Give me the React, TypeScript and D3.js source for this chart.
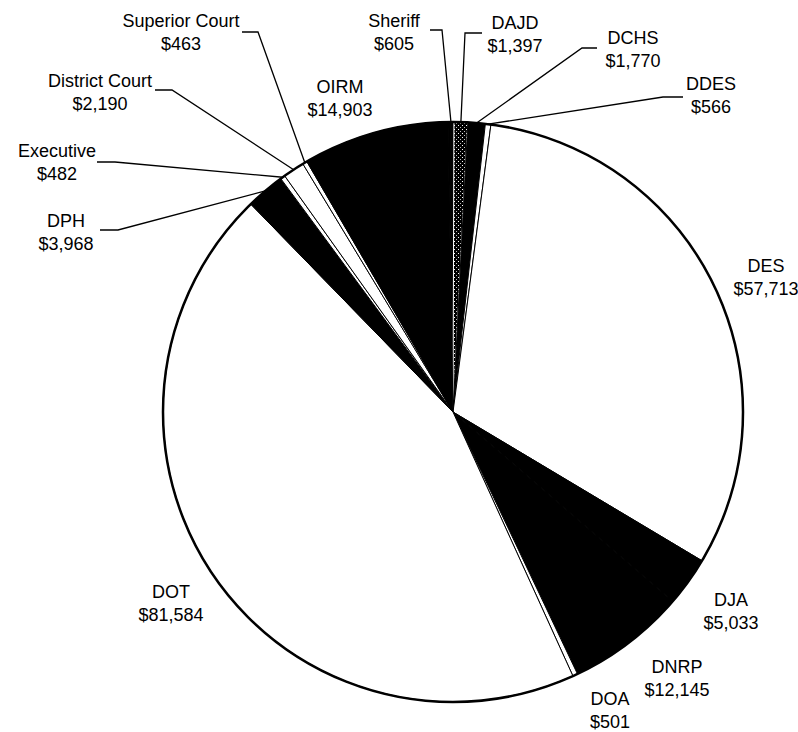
import React from "react";
import * as d3 from "d3";

const departments = ["Sheriff", "DAJD", "DCHS", "DDES", "DES", "DJA", "DNRP", "DOA", "DOT", "DPH", "Executive", "District Court", "Superior Court", "OIRM"];
const amounts = [605, 1397, 1770, 566, 57713, 5033, 12145, 501, 81584, 3968, 482, 2190, 463, 14903];
const sliceFills = ["black", "url(#speckle)", "black", "white", "white", "black", "black", "white", "white", "black", "white", "white", "white", "black"];

// label layout: [center x, first-line baseline]
const labelPos: Record<string, [number, number]> = {
  Sheriff: [394, 27],
  DAJD: [515, 29],
  DCHS: [633, 44],
  DDES: [711, 90],
  DES: [766, 272],
  DJA: [731, 606],
  DNRP: [677, 673],
  DOA: [610, 705],
  DOT: [171, 598],
  DPH: [66, 227],
  Executive: [57, 157],
  "District Court": [100, 87],
  "Superior Court": [181, 27],
  OIRM: [340, 93],
};
// leader elbows (elbow, end) for labels with leader lines
const leaderPts: Record<string, [number, number][]> = {
  Sheriff: [[442, 30], [430, 30]],
  DAJD: [[465, 33], [482, 33]],
  DCHS: [[582, 48], [597, 48]],
  DDES: [[663, 97], [683, 97]],
  "Superior Court": [[258, 32], [242, 32]],
  "District Court": [[172, 90], [155, 90]],
  Executive: [[115, 162], [97, 162]],
  DPH: [[118, 230], [100, 230]],
};

const W = 798, H = 732;
const CX = 453, CY = 412, R = 290;
const ROT = (-1 * Math.PI) / 180;

const fmt = d3.format("$,");

export default function App() {
  const data = departments.map((name, i) => ({ name, value: amounts[i], fill: sliceFills[i] }));
  const pie = d3
    .pie<any>()
    .sort(null)
    .value((d: any) => d.value)
    .startAngle(ROT)
    .endAngle(2 * Math.PI + ROT);
  const arcs = pie(data);
  const arc = d3.arc<any>().innerRadius(0).outerRadius(R);
  const line = d3.line();

  return (
    <svg
      width={W}
      height={H}
      style={{ position: "absolute", left: 0, top: 0, background: "white" }}
      fontFamily="'Liberation Sans', Arial, sans-serif"
    >
      <defs>
        <pattern id="speckle" width="4" height="4" patternUnits="userSpaceOnUse">
          <rect width="4" height="4" fill="black" />
          <rect x="1" y="1" width="1" height="1" fill="white" />
          <rect x="3" y="3" width="1" height="1" fill="#bbb" />
        </pattern>
      </defs>
      <g transform={`translate(${CX},${CY})`}>
        {arcs.map((a, i) => (
          <path
            key={i}
            d={arc(a) as string}
            fill={a.data.fill}
            stroke={a.data.fill === "url(#speckle)" ? "white" : "black"}
            strokeWidth={1}
          />
        ))}
        <circle r={R} fill="none" stroke="black" strokeWidth={2.5} />
      </g>
      {arcs.map((a, i) => {
        const name = a.data.name;
        const pts = leaderPts[name];
        if (!pts) return null;
        const mid = (a.startAngle + a.endAngle) / 2;
        const start: [number, number] = [CX + R * Math.sin(mid), CY - R * Math.cos(mid)];
        return (
          <path key={"l" + i} d={line([start, ...pts]) as string} fill="none" stroke="black" strokeWidth={1.3} />
        );
      })}
      {arcs.map((a, i) => {
        const name = a.data.name;
        const [x, y] = labelPos[name];
        return (
          <text key={"t" + i} x={x} y={y} textAnchor="middle" fontSize={18} fill="black">
            <tspan x={x}>{name}</tspan>
            <tspan x={x} dy={23}>{fmt(a.data.value)}</tspan>
          </text>
        );
      })}
    </svg>
  );
}
